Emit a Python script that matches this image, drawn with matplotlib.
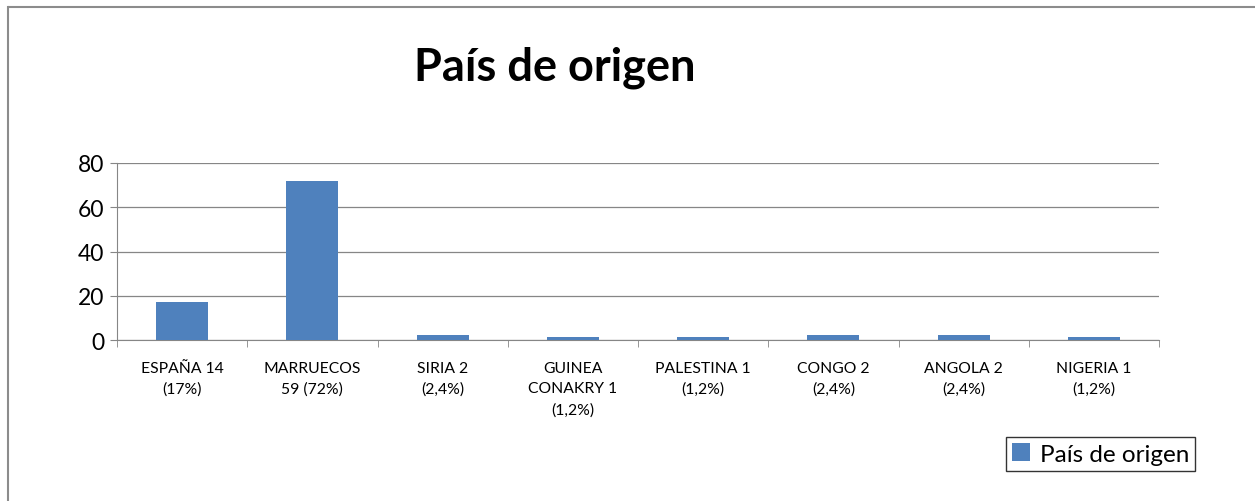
import matplotlib.pyplot as plt
from matplotlib.lines import Line2D
import numpy as np

paises = ['ESPAÑA 14\n(17%)', 'MARRUECOS\n59 (72%)', 'SIRIA 2\n(2,4%)',
          'GUINEA\nCONAKRY 1\n(1,2%)', 'PALESTINA 1\n(1,2%)', 'CONGO 2\n(2,4%)',
          'ANGOLA 2\n(2,4%)', 'NIGERIA 1\n(1,2%)']
porcentajes = [17, 72, 2.4, 1.2, 1.2, 2.4, 2.4, 1.2]
yticks = [0, 20, 40, 60, 80]

plt.rcParams['font.family'] = ['Lato', 'DejaVu Sans']

fig = plt.figure(figsize=(12.55, 5.02), dpi=100)
fig.patch.set_edgecolor('none')
fig.patch.set_linewidth(0)
# marco exterior (solo se ven los bordes izquierdo y superior)
x0, y0 = 7.5 / 1255, (502 - 8) / 502
fig.lines.append(Line2D([x0, x0], [0, y0], transform=fig.transFigure,
                        color='#8c8c8c', linewidth=1.5))
fig.lines.append(Line2D([x0, 1.0], [y0, y0], transform=fig.transFigure,
                        color='#8c8c8c', linewidth=1.5, solid_capstyle='butt'))

ax = fig.add_axes([117 / 1255, (502 - 341) / 502, (1159 - 117) / 1255, 177 / 502])
x = np.arange(len(paises))
ax.bar(x, porcentajes, width=0.4, color='#4f81bd', label='País de origen', zorder=3)

ax.set_xlim(-0.5, len(paises) - 0.5)
ax.set_ylim(0, 80)
ax.set_yticks(yticks)
ax.set_xticks(x)
ax.set_xticklabels(paises, fontsize=11.3, linespacing=1.6, va='top')
ax.set_xticks(np.arange(len(paises) + 1) - 0.5, minor=True)
ax.tick_params(axis='x', which='major', length=0, pad=15)
ax.tick_params(axis='x', which='minor', length=5, color='#868686')
ax.tick_params(axis='y', length=5, color='#868686', labelsize=16.5, pad=4)

ax.grid(axis='y', color='#868686', linewidth=0.9, zorder=0)
for s in ['top', 'right']:
    ax.spines[s].set_visible(False)
ax.spines['left'].set_color('#868686')
ax.spines['bottom'].set_color('#868686')

fig.text(555 / 1255, (502 - 68) / 502, 'País de origen', fontsize=32.5,
         fontweight='bold', ha='center', va='center')

leg = fig.legend(loc='center', bbox_to_anchor=(1100.5 / 1255, (502 - 455) / 502),
                 fontsize=17.5, frameon=True, fancybox=False, handlelength=0.75,
                 handleheight=0.75, handletextpad=0.4, borderpad=0.25,
                 borderaxespad=0)
leg.get_frame().set_edgecolor('black')
leg.get_frame().set_linewidth(1)

plt.savefig('out.png', dpi=100)
